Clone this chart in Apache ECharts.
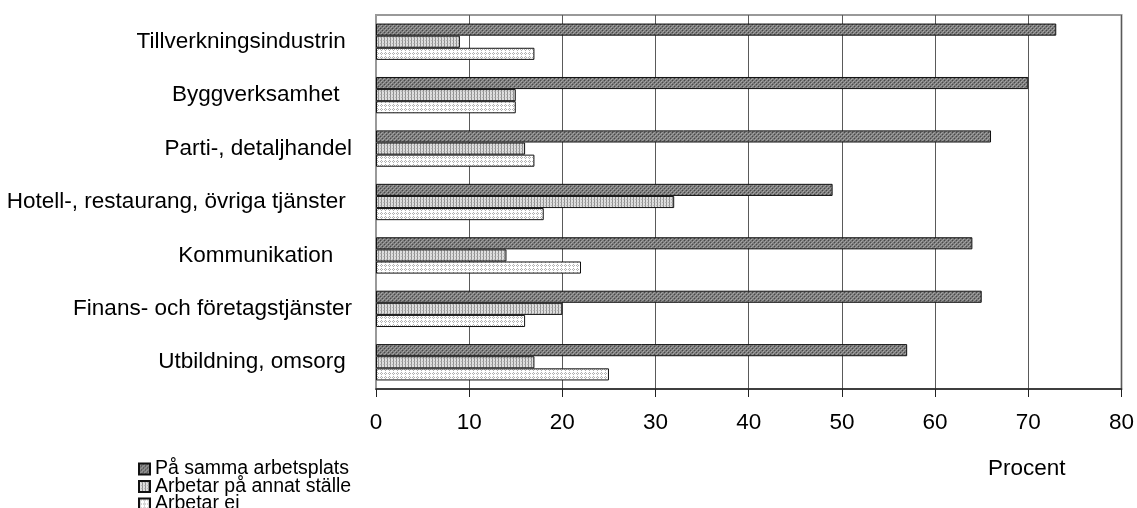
<!DOCTYPE html>
<html>
<head>
<meta charset="utf-8">
<script src="https://cdn.jsdelivr.net/npm/echarts@6/dist/echarts.min.js"></script>
<style>
  html, body { margin: 0; padding: 0; background: #fff; }
  #chart { width: 1137px; height: 508px; }
</style>
</head>
<body>
<div id="chart"></div>
<script>
// Branches, listed top to bottom
const categories = [
  'Tillverkningsindustrin ',
  'Byggverksamhet  ',
  'Parti-, detaljhandel',
  'Hotell-, restaurang, övriga tjänster ',
  'Kommunikation   ',
  'Finans- och företagstjänster',
  'Utbildning, omsorg '
];

const seriesNames = ['På samma arbetsplats', 'Arbetar på annat ställe', 'Arbetar ej'];

// Percent per branch
const sammaArbetsplats = [73, 70, 66, 49, 64, 65, 57];
const annatStalle      = [9, 15, 16, 32, 14, 20, 17];
const arbetarEj        = [17, 15, 17, 18, 22, 16, 25];

const xTicks = [0, 10, 20, 30, 40, 50, 60, 70, 80];

// Small repeating halftone tiles used as bar fills
function tile(size, bg, pixels) {
  const c = document.createElement('canvas');
  c.width = size; c.height = size;
  const ctx = c.getContext('2d');
  ctx.fillStyle = bg;
  ctx.fillRect(0, 0, size, size);
  pixels.forEach(p => {
    ctx.fillStyle = p[2];
    ctx.fillRect(p[0], p[1], 1, 1);
  });
  return { image: c, repeat: 'repeat' };
}

const darkFill = tile(4, '#7a7a7a', [
  [0, 0, '#484848'], [2, 2, '#484848'],
  [1, 1, '#a8a8a8'], [3, 3, '#a8a8a8'], [2, 0, '#999999'], [0, 2, '#999999']
]);
const midFill = tile(3, '#dedede', [
  [0, 0, '#909090'], [0, 1, '#a0a0a0'], [0, 2, '#909090'],
  [2, 1, '#b8b8b8']
]);
const lightFill = tile(4, '#ffffff', [
  [1, 0, '#b0b0b0'], [0, 1, '#b0b0b0'], [2, 1, '#b0b0b0'], [1, 2, '#b0b0b0']
]);

const fills = [darkFill, midFill, lightFill];
const values = [sammaArbetsplats, annatStalle, arbetarEj];

const font = '"Liberation Sans", Arial, Helvetica, sans-serif';
const legendTops = [459, 476.5, 494];

const chart = echarts.init(document.getElementById('chart'), null, { renderer: 'canvas' });

chart.setOption({
  animation: false,
  textStyle: { fontFamily: font },
  grid: {
    left: 376, right: 15, top: 15, bottom: 119,
    show: true, borderColor: '#999', borderWidth: 2, backgroundColor: '#fff'
  },
  // one legend block per row so the three rows stack tightly
  legend: seriesNames.map((name, i) => ({
    orient: 'vertical',
    left: 138, top: legendTops[i],
    icon: 'rect',
    itemWidth: 11, itemHeight: 11, itemGap: 0, padding: 0,
    textStyle: { fontSize: 19.5, color: '#000', fontFamily: font, lineHeight: 18 },
    data: [name]
  })),
  xAxis: {
    type: 'value',
    min: xTicks[0], max: xTicks[xTicks.length - 1], interval: 10,
    axisLine: { show: true, lineStyle: { color: '#222', width: 1.5 } },
    axisTick: { show: true, length: 8, lineStyle: { color: '#222', width: 1 } },
    axisLabel: { fontSize: 22.5, color: '#000', margin: 22, fontFamily: font },
    splitLine: { show: true, lineStyle: { color: '#5a5a5a', width: 1 } }
  },
  yAxis: {
    type: 'category',
    inverse: true,
    data: categories,
    axisLine: { show: true, lineStyle: { color: '#999', width: 2 } },
    axisTick: { show: false },
    axisLabel: { fontSize: 22.5, color: '#000', margin: 24, fontFamily: font }
  },
  graphic: [{
    type: 'text',
    left: 988, top: 457,
    style: { text: 'Procent', fontSize: 22.5, fill: '#000', fontFamily: font }
  }],
  series: seriesNames.map((name, i) => ({
    name: name,
    type: 'bar',
    data: values[i],
    barGap: '0%',
    barCategoryGap: '32%',
    itemStyle: { color: fills[i], borderColor: '#111', borderWidth: 1 }
  }))
});
</script>
</body>
</html>
